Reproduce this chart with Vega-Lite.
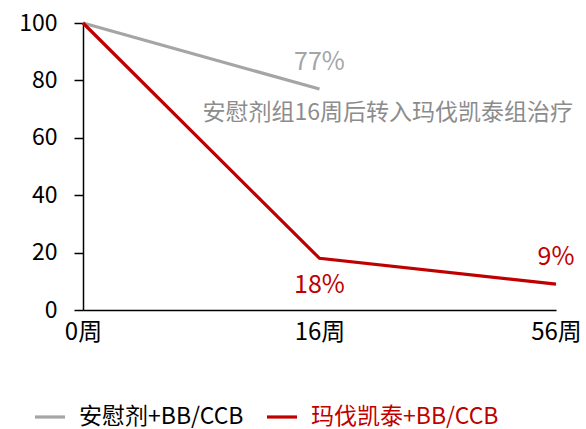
{
  "$schema": "https://vega.github.io/schema/vega-lite/v6.json",
  "autosize": "none",
  "width": 473,
  "height": 287,
  "padding": {"left": 83, "top": 23, "right": 30, "bottom": 119},
  "background": "white",
  "config": {
    "font": "Noto Sans CJK SC",
    "view": {"stroke": null}
  },
  "datasets": {
    "main": [
      {"week": "0周", "series": "安慰剂+BB/CCB", "value": 100, "label": ""},
      {"week": "16周", "series": "安慰剂+BB/CCB", "value": 77, "label": "77%"},
      {"week": "0周", "series": "玛伐凯泰+BB/CCB", "value": 100, "label": ""},
      {"week": "16周", "series": "玛伐凯泰+BB/CCB", "value": 18, "label": "18%"},
      {"week": "56周", "series": "玛伐凯泰+BB/CCB", "value": 9, "label": "9%"}
    ],
    "note": [
      {"week": "16周", "value": 68.6, "text": "安慰剂组16周后转入玛伐凯泰组治疗"}
    ]
  },
  "data": {"name": "main"},
  "layer": [
    {
      "mark": {"type": "line", "strokeWidth": 3.2},
      "encoding": {
        "x": {
          "field": "week", "type": "ordinal", "sort": ["0周", "16周", "56周"],
          "scale": {"type": "point", "padding": 0},
          "axis": {"title": null, "labelAngle": 0, "ticks": false, "domainColor": "#000000", "domainWidth": 1.5, "labelFontSize": 24, "labelColor": "#000000", "labelPadding": 10, "labelFont": "Noto Sans CJK SC"}
        },
        "y": {
          "field": "value", "type": "quantitative",
          "scale": {"domain": [0, 100], "nice": false},
          "axis": {"title": null, "values": [0, 20, 40, 60, 80, 100], "grid": false, "domainColor": "#000000", "domainWidth": 1.5, "tickColor": "#000000", "tickWidth": 1.5, "tickSize": 9, "labelFontSize": 23, "labelColor": "#000000", "labelPadding": 17, "labelFont": "Noto Sans CJK SC"}
        },
        "color": {
          "field": "series", "type": "nominal",
          "scale": {"domain": ["安慰剂+BB/CCB", "玛伐凯泰+BB/CCB"], "range": ["#A5A5A5", "#C00000"]},
          "legend": {
            "title": null, "orient": "none", "direction": "horizontal",
            "legendX": -50, "legendY": 377,
            "symbolType": "stroke", "symbolSize": 900, "symbolStrokeWidth": 3.2,
            "labelFontSize": 23, "labelOffset": 12, "columnPadding": 16, "labelLimit": 400,
            "labelFont": "Noto Sans CJK SC",
            "encode": {"labels": {"update": {"fill": {"signal": "datum.value === '玛伐凯泰+BB/CCB' ? '#C00000' : '#000000'"}}}}
          }
        },
        "order": {"field": "week", "type": "ordinal"}
      }
    },
    {
      "transform": [{"filter": "datum.label === '77%' || datum.label === '9%'"}],
      "mark": {"type": "text", "fontSize": 25, "dy": -27},
      "encoding": {
        "x": {"field": "week", "type": "ordinal", "sort": ["0周", "16周", "56周"]},
        "y": {"field": "value", "type": "quantitative"},
        "text": {"field": "label"},
        "color": {"field": "series", "type": "nominal", "legend": null}
      }
    },
    {
      "transform": [{"filter": "datum.label === '18%'"}],
      "mark": {"type": "text", "fontSize": 25, "dy": 27},
      "encoding": {
        "x": {"field": "week", "type": "ordinal", "sort": ["0周", "16周", "56周"]},
        "y": {"field": "value", "type": "quantitative"},
        "text": {"field": "label"},
        "color": {"field": "series", "type": "nominal", "legend": null}
      }
    },
    {
      "data": {"name": "note"},
      "mark": {"type": "text", "fontSize": 23, "align": "left", "dx": -117, "color": "#8C8C8C"},
      "encoding": {
        "x": {"field": "week", "type": "ordinal", "sort": ["0周", "16周", "56周"]},
        "y": {"field": "value", "type": "quantitative"},
        "text": {"field": "text"}
      }
    }
  ]
}
